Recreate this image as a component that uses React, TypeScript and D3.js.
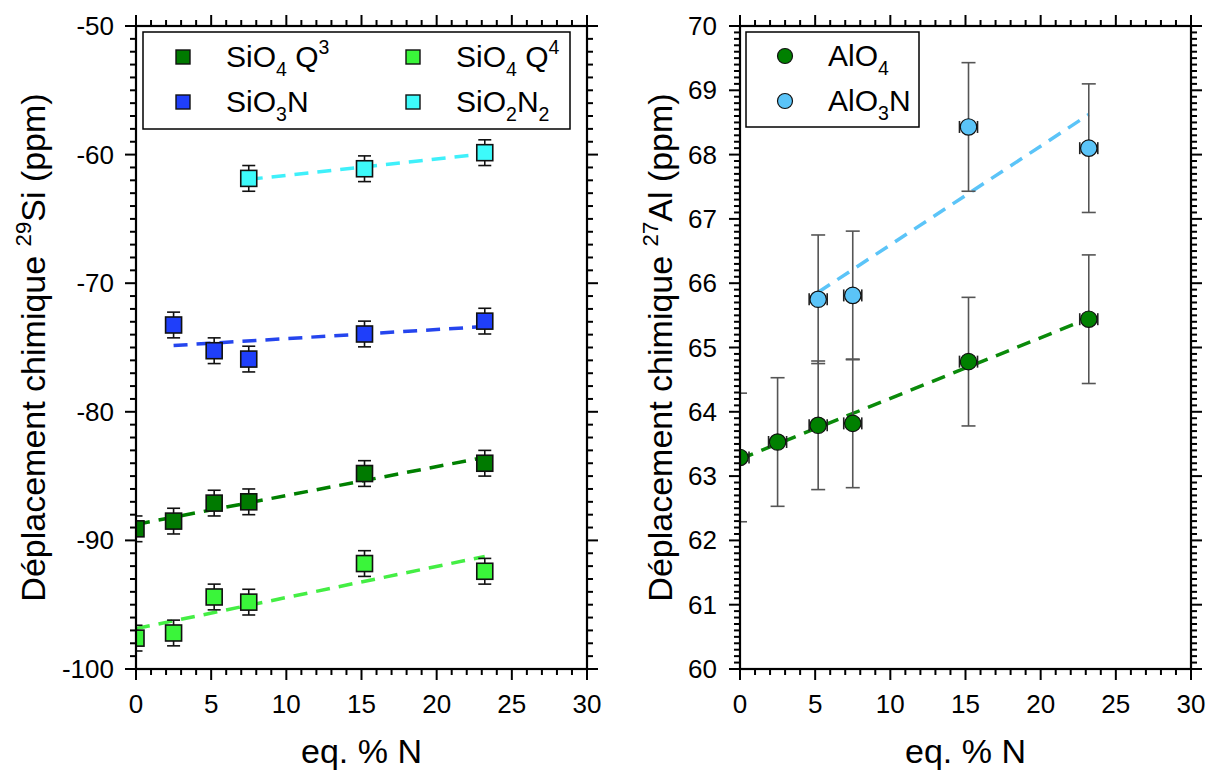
import React from "react";
import * as d3 from "d3";

// ---------- data ----------
const xTicks = [0, 5, 10, 15, 20, 25, 30];
const siYTicks = [-100, -90, -80, -70, -60, -50];
const alYTicks = [60, 61, 62, 63, 64, 65, 66, 67, 68, 69, 70];

const siX = [0, 2.5, 5.2, 7.5, 15.2, 23.2];
const sio4Q3 = [-89.1, -88.5, -87.1, -87.0, -84.8, -84.0];
const sio4Q4 = [-97.6, -97.2, -94.4, -94.8, -91.8, -92.4];
const sio3nX = [2.5, 5.2, 7.5, 15.2, 23.2];
const sio3n = [-73.25, -75.25, -75.9, -73.95, -72.95];
const sio2n2X = [7.5, 15.2, 23.2];
const sio2n2 = [-61.85, -61.1, -59.85];
const siErr = 1.0;

const alX = [0, 2.5, 5.2, 7.5, 15.2, 23.2];
const alo4 = [63.29, 63.53, 63.79, 63.82, 64.78, 65.44];
const alo3nX = [5.2, 7.5, 15.2, 23.2];
const alo3n = [65.75, 65.81, 68.43, 68.1];
const alErr = 1.0;
const alXErr = 0.6;

type Seg = { t: string; sub?: boolean; sup?: boolean };

const FONT = "'Liberation Sans', Arial, sans-serif";

function linFit(xs: number[], ys: number[]) {
  const mx = d3.mean(xs)!;
  const my = d3.mean(ys)!;
  let sxy = 0, sxx = 0;
  xs.forEach((x, i) => {
    sxy += (x - mx) * (ys[i] - my);
    sxx += (x - mx) * (x - mx);
  });
  const b = sxy / sxx;
  return { a: my - b * mx, b };
}

function Rich({ segs, x, y, size, anchor = "start", transform }: { segs: Seg[]; x: number; y: number; size: number; anchor?: string; transform?: string }) {
  let off = 0;
  const parts = segs.map((s, i) => {
    const target = s.sub ? 0.3 * size : s.sup ? -0.42 * size : 0;
    const dy = target - off;
    off = target;
    return (
      <tspan key={i} dy={dy} fontSize={s.sub || s.sup ? size * 0.65 : size}>
        {s.t}
      </tspan>
    );
  });
  return (
    <text x={x} y={y} fontSize={size} fontFamily={FONT} textAnchor={anchor} transform={transform} fill="#000">
      {parts}
    </text>
  );
}

type Series = {
  xs: number[];
  ys: number[];
  color: string;
  line: string;
  shape: "square" | "circle";
  label: Seg[];
};

type PanelProps = {
  id: string;
  left: number; right: number; top: number; bottom: number;
  yDomain: [number, number];
  yTicks: number[];
  yMinor: number;
  series: Series[];
  yErr: number;
  xErr: number;
  errColor: string;
  cap: number;
  yTitle: Seg[];
  yTitleX: number;
  legend: { x: number; y: number; w: number; h: number; cols: number[]; textDx: number; rows: number[] };
  tickLabelDx: number;
};

function Panel(p: PanelProps) {
  const x = d3.scaleLinear().domain([0, 30]).range([p.left, p.right]);
  const y = d3.scaleLinear().domain(p.yDomain).range([p.bottom, p.top]);
  const xMinor = d3.range(0, 30.001, 1).filter((v) => !xTicks.includes(v));
  const [y0, y1] = p.yDomain;
  const nMinor = Math.round((y1 - y0) / p.yMinor);
  const yMinor = d3.range(0, nMinor + 1).map((i) => y0 + i * p.yMinor).filter((v) => !p.yTicks.some((t) => Math.abs(t - v) < 1e-6));
  const MAJ = 11, MIN = 6;
  const tickStroke = { stroke: "#000", strokeWidth: 2 };
  const cx = (p.left + p.right) / 2;
  const cy = (p.top + p.bottom) / 2;
  return (
    <g>
      <defs>
        <clipPath id={p.id}>
          <rect x={p.left} y={p.top} width={p.right - p.left} height={p.bottom - p.top} />
        </clipPath>
      </defs>
      <g clipPath={`url(#${p.id})`}>
        {p.series.map((s, i) => {
          const f = linFit(s.xs, s.ys);
          const xa = d3.min(s.xs)!, xb = d3.max(s.xs)!;
          return (
            <line key={"f" + i} x1={x(xa)} y1={y(f.a + f.b * xa)} x2={x(xb)} y2={y(f.a + f.b * xb)}
              stroke={s.line} strokeWidth={3.5} strokeDasharray="14 9" />
          );
        })}
        {p.series.map((s, i) => (
          <g key={"e" + i} stroke={p.errColor} strokeWidth={1.6} fill="none">
            {s.xs.map((xv, j) => (
              <g key={j}>
                <line x1={x(xv)} x2={x(xv)} y1={y(s.ys[j] - p.yErr)} y2={y(s.ys[j] + p.yErr)} />
                <line x1={x(xv) - p.cap} x2={x(xv) + p.cap} y1={y(s.ys[j] - p.yErr)} y2={y(s.ys[j] - p.yErr)} />
                <line x1={x(xv) - p.cap} x2={x(xv) + p.cap} y1={y(s.ys[j] + p.yErr)} y2={y(s.ys[j] + p.yErr)} />
                {p.xErr > 0 && (
                  <g stroke="#222">
                    <line x1={x(xv - p.xErr)} x2={x(xv + p.xErr)} y1={y(s.ys[j])} y2={y(s.ys[j])} />
                    <line x1={x(xv - p.xErr)} x2={x(xv - p.xErr)} y1={y(s.ys[j]) - 6} y2={y(s.ys[j]) + 6} />
                    <line x1={x(xv + p.xErr)} x2={x(xv + p.xErr)} y1={y(s.ys[j]) - 6} y2={y(s.ys[j]) + 6} />
                  </g>
                )}
              </g>
            ))}
          </g>
        ))}
        {p.series.map((s, i) => (
          <g key={"m" + i}>
            {s.xs.map((xv, j) =>
              s.shape === "square" ? (
                <rect key={j} x={x(xv) - 8} y={y(s.ys[j]) - 8} width={16} height={16} fill={s.color} stroke="#111" strokeWidth={1.6} />
              ) : (
                <circle key={j} cx={x(xv)} cy={y(s.ys[j])} r={8.2} fill={s.color} stroke="#111" strokeWidth={1.2} />
              )
            )}
          </g>
        ))}
      </g>
      <rect x={p.left} y={p.top} width={p.right - p.left} height={p.bottom - p.top} fill="none" stroke="#000" strokeWidth={2.2} />
      {xTicks.map((t) => (
        <g key={"xt" + t} {...tickStroke}>
          <line x1={x(t)} x2={x(t)} y1={p.bottom} y2={p.bottom + MAJ} />
          <line x1={x(t)} x2={x(t)} y1={p.top} y2={p.top - MAJ} />
        </g>
      ))}
      {xMinor.map((t) => (
        <g key={"xm" + t} {...tickStroke}>
          <line x1={x(t)} x2={x(t)} y1={p.bottom} y2={p.bottom + MIN} />
          <line x1={x(t)} x2={x(t)} y1={p.top} y2={p.top - MIN} />
        </g>
      ))}
      {p.yTicks.map((t) => (
        <g key={"yt" + t} {...tickStroke}>
          <line x1={p.left} x2={p.left - MAJ} y1={y(t)} y2={y(t)} />
          <line x1={p.right} x2={p.right + MAJ} y1={y(t)} y2={y(t)} />
        </g>
      ))}
      {yMinor.map((t, i) => (
        <g key={"ym" + i} {...tickStroke}>
          <line x1={p.left} x2={p.left - MIN} y1={y(t)} y2={y(t)} />
          <line x1={p.right} x2={p.right + MIN} y1={y(t)} y2={y(t)} />
        </g>
      ))}
      {xTicks.map((t) => (
        <text key={"xl" + t} x={x(t)} y={p.bottom + 44} textAnchor="middle" fontSize={26} fontFamily={FONT}>
          {t}
        </text>
      ))}
      {p.yTicks.map((t) => (
        <text key={"yl" + t} x={p.left - p.tickLabelDx} y={y(t) + 9} textAnchor="end" fontSize={26} fontFamily={FONT}>
          {String(t)}
        </text>
      ))}
      <text x={cx} y={p.bottom + 94} textAnchor="middle" fontSize={34} fontFamily={FONT}>
        eq. % N
      </text>
      <Rich segs={p.yTitle} x={0} y={0} size={34} anchor="middle" transform={`translate(${p.yTitleX},${cy}) rotate(-90)`} />
      <rect x={p.legend.x} y={p.legend.y} width={p.legend.w} height={p.legend.h} fill="#fff" stroke="#000" strokeWidth={1.5} />
      {p.series.map((s, i) => {
        const col = i % p.legend.cols.length;
        const row = Math.floor(i / p.legend.cols.length);
        const mx = p.legend.cols[col];
        const my = p.legend.rows[row];
        return (
          <g key={"lg" + i}>
            {s.shape === "square" ? (
              <rect x={mx - 7} y={my - 7} width={14} height={14} fill={s.color} stroke="#111" strokeWidth={1.4} />
            ) : (
              <circle cx={mx} cy={my} r={7.5} fill={s.color} stroke="#111" strokeWidth={1.2} />
            )}
            <Rich segs={s.label} x={mx + p.legend.textDx} y={my + 10} size={30} />
          </g>
        );
      })}
    </g>
  );
}

export default function App() {
  const siSeries: Series[] = [
    { xs: siX, ys: sio4Q3, color: "#007a00", line: "#008000", shape: "square", label: [{ t: "SiO" }, { t: "4", sub: true }, { t: " Q" }, { t: "3", sup: true }] },
    { xs: siX, ys: sio4Q4, color: "#3af53a", line: "#44ee44", shape: "square", label: [{ t: "SiO" }, { t: "4", sub: true }, { t: " Q" }, { t: "4", sup: true }] },
    { xs: sio3nX, ys: sio3n, color: "#1f3ffa", line: "#2545ee", shape: "square", label: [{ t: "SiO" }, { t: "3", sub: true }, { t: "N" }] },
    { xs: sio2n2X, ys: sio2n2, color: "#3dfafa", line: "#3ff0fa", shape: "square", label: [{ t: "SiO" }, { t: "2", sub: true }, { t: "N" }, { t: "2", sub: true }] },
  ];
  const alSeries: Series[] = [
    { xs: alX, ys: alo4, color: "#008000", line: "#0a8a0a", shape: "circle", label: [{ t: "AlO" }, { t: "4", sub: true }] },
    { xs: alo3nX, ys: alo3n, color: "#5bc4f8", line: "#5bc4f8", shape: "circle", label: [{ t: "AlO" }, { t: "3", sub: true }, { t: "N" }] },
  ];
  return (
    <svg width={1207} height={771} style={{ position: "absolute", left: 0, top: 0, background: "#fff" }}>
      <rect width={1207} height={771} fill="#fff" />
      <Panel
        id="clipSi"
        left={136} right={587} top={26} bottom={669}
        yDomain={[-100, -50]} yTicks={siYTicks} yMinor={1}
        series={siSeries}
        yErr={siErr} xErr={0} errColor="#111" cap={6.5}
        yTitle={[{ t: "Déplacement chimique " }, { t: "29", sup: true }, { t: "Si (ppm)" }]}
        yTitleX={45}
        legend={{ x: 143, y: 32, w: 427, h: 97, cols: [183, 413], textDx: 43, rows: [57, 102] }}
        tickLabelDx={22}
      />
      <Panel
        id="clipAl"
        left={740} right={1191} top={26} bottom={669}
        yDomain={[60, 70]} yTicks={alYTicks} yMinor={0.1}
        series={alSeries}
        yErr={alErr} xErr={alXErr} errColor="#555" cap={7}
        yTitle={[{ t: "Déplacement chimique " }, { t: "27", sup: true }, { t: "Al (ppm)" }]}
        yTitleX={672}
        legend={{ x: 746, y: 32, w: 173, h: 95, cols: [785], textDx: 43, rows: [56, 101] }}
        tickLabelDx={23}
      />
    </svg>
  );
}
